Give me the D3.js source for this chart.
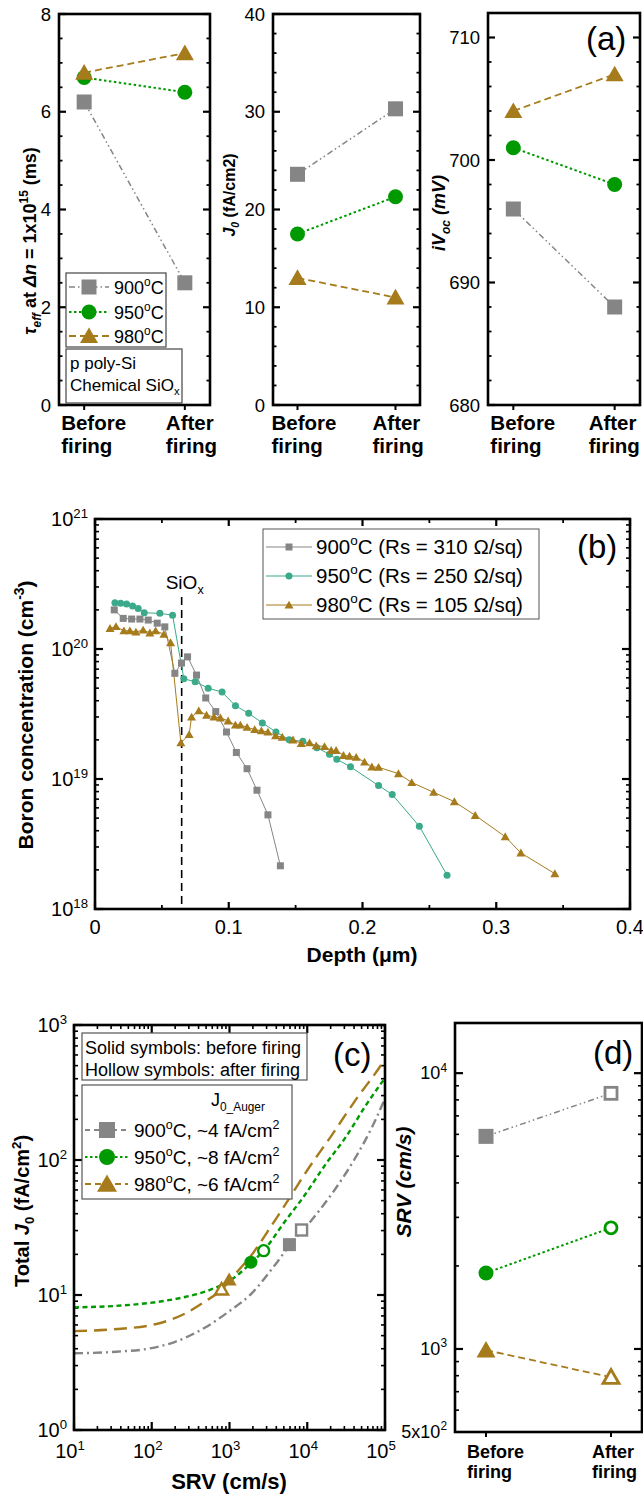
<!DOCTYPE html>
<html><head><meta charset="utf-8">
<script src="https://cdn.jsdelivr.net/npm/d3@7"></script>
<style>
body{margin:0;background:#fff}
svg{display:block}
text{font-family:"Liberation Sans",Arial,sans-serif;white-space:pre;fill:#000}
</style>
</head><body>
<svg id="chart" width="643" height="1494"></svg>
<script>
// ---------------- DATA ----------------
const firing = ["Before firing", "After firing"];
const firingLines = [["Before", "firing"], ["After", "firing"]];
const temps = ["900", "950", "980"];
// panel (a)
const tau900 = [6.2, 2.5], tau950 = [6.7, 6.4], tau980 = [6.8, 7.2];
const j0_900 = [23.6, 30.3], j0_950 = [17.5, 21.3], j0_980 = [13.0, 11.0];
const ivoc900 = [696, 688], ivoc950 = [701, 698], ivoc980 = [704, 707];
const tauTicks = [0, 2, 4, 6, 8];
const j0Ticks = [0, 10, 20, 30, 40];
const ivocTicks = [680, 690, 700, 710];
// panel (b)
const bRs = ["310", "250", "105"];
const b900Depth = [0.0144,0.0211,0.0274,0.0336,0.0398,0.0465,0.0522,0.0597,0.0647,0.0692,0.0759,0.0828,0.0903,0.0983,0.1057,0.1137,0.1211,0.1293,0.1386];
const b900Conc = [2.0e20,1.72e20,1.70e20,1.70e20,1.67e20,1.58e20,1.48e20,6.5e19,7.8e19,8.7e19,6.3e19,4.2e19,3.3e19,2.3e19,1.6e19,1.2e19,8.2e18,5.3e18,2.15e18];
const b950Depth = [0.0149,0.0192,0.0236,0.0281,0.0323,0.0368,0.0485,0.058,0.0664,0.0749,0.0846,0.095,0.105,0.1149,0.1251,0.1353,0.1452,0.1554,0.1659,0.1753,0.1808,0.191,0.212,0.2222,0.2425,0.2632];
const b950Conc = [2.27e20,2.25e20,2.22e20,2.14e20,2.05e20,1.9e20,1.88e20,1.82e20,5.9e19,5.6e19,5.0e19,4.66e19,3.66e19,3.2e19,2.7e19,2.3e19,2.0e19,1.95e19,1.74e19,1.55e19,1.42e19,1.24e19,8.9e18,7.6e18,4.33e18,1.82e18];
const b980Depth = [0.0112,0.0157,0.0216,0.0261,0.0306,0.036,0.041,0.0453,0.0515,0.0565,0.0642,0.0704,0.0722,0.0776,0.0834,0.089,0.0938,0.0995,0.105,0.1087,0.1137,0.1194,0.1244,0.1293,0.135,0.14,0.148,0.1542,0.1604,0.1654,0.1716,0.1766,0.1803,0.1858,0.1903,0.1953,0.2015,0.207,0.212,0.2269,0.2368,0.2532,0.2687,0.2843,0.3067,0.3184,0.3438];
const b980Conc = [1.44e20,1.49e20,1.38e20,1.38e20,1.35e20,1.4e20,1.33e20,1.38e20,1.3e20,1.12e20,1.9e19,2.2e19,3.0e19,3.35e19,3.1e19,3.0e19,2.95e19,2.8e19,2.6e19,2.6e19,2.5e19,2.4e19,2.35e19,2.3e19,2.15e19,2.1e19,2.0e19,1.88e19,1.9e19,1.8e19,1.78e19,1.66e19,1.66e19,1.52e19,1.5e19,1.47e19,1.35e19,1.24e19,1.23e19,1.1e19,9.4e18,7.9e18,6.7e18,5.25e18,3.6e18,2.7e18,1.87e18];
const siOxDepth = 0.0648;
const depthTicks = [0, 0.1, 0.2, 0.3, 0.4];
const depthTickLabels = ["0", "0.1", "0.2", "0.3", "0.4"];
const concTicks = [1e18, 1e19, 1e20, 1e21];
const concExp = ["18", "19", "20", "21"];
// panel (c) & (d)
const srv900 = [5900, 8450], srv950 = [1885, 2750], srv980 = [990, 790];
const j0Auger = ["4", "8", "6"];
const c900SRV = [10, 35, 90, 200, 500, 1000, 1900, 3700, 6000, 11000, 22000, 40000, 68000, 100000];
const c900J0  = [3.7, 3.8, 4.0, 4.5, 5.8, 7.6, 10.2, 16.2, 23.5, 35, 59, 100, 175, 285];
const c950SRV = [10, 40, 120, 275, 560, 1100, 1900, 2800, 5100, 9300, 17000, 31600, 57500, 100000];
const c950J0  = [8.1, 8.35, 8.9, 9.7, 10.9, 13.2, 17.3, 21.6, 34.7, 55, 92, 149, 257, 405];
const c980SRV = [10, 30, 115, 257, 520, 760, 1120, 2040, 3090, 5620, 10000, 20400, 40700, 91200, 100000];
const c980J0  = [5.4, 5.55, 6.1, 7.2, 9.2, 10.7, 13.8, 20.7, 29.5, 50, 84, 151, 272, 516, 560];
const srvTicksC = [10, 100, 1000, 10000, 100000];
const srvExpC = ["1", "2", "3", "4", "5"];
const j0TicksC = [1, 10, 100, 1000];
const j0ExpC = ["0", "1", "2", "3"];
const srvTicksD = [500, 1000, 10000];
const srvTickBaseD = ["5x10", "10", "10"];
const srvTickExpD = ["2", "3", "4"];

// ---------------- STYLE ----------------
const COL = {gray: "#858585", green: "#009a00", brown: "#a67b1c", teal: "#3aaa8b"};
const STY = [
  {color: COL.gray, shape: "square", dash: "6,3,1.5,3,1.5,3", w: 1.5},
  {color: COL.green, shape: "circle", dash: "2.5,2.5", w: 2},
  {color: COL.brown, shape: "triangle", dash: "7,4", w: 1.8}
];

const svg = d3.select("#chart");
svg.append("rect").attr("width", 643).attr("height", 1494).attr("fill", "#fff");
const defs = svg.append("defs");

function rich(g, x, y, segs, o) {
  const t = g.append("text").attr("x", x).attr("y", y)
    .attr("font-size", o.size).attr("text-anchor", o.anchor || "start");
  if (o.bold) t.attr("font-weight", "bold");
  if (o.italic) t.attr("font-style", "italic");
  if (o.transform) t.attr("transform", o.transform);
  let shift = 0;
  segs.forEach(s => {
    const seg = typeof s === "string" ? {t: s} : s;
    let target = 0, fs = o.size;
    if (seg.sup) { target = -o.size * 0.42; fs = o.size * 0.66; }
    if (seg.sub) { target = o.size * 0.25; fs = o.size * 0.66; }
    const ts = t.append("tspan").text(seg.t).attr("font-size", fs).attr("dy", target - shift);
    shift = target;
    if (seg.i) ts.attr("font-style", "italic");
  });
  return t;
}
function frame(g, x0, y0, x1, y1) {
  g.append("rect").attr("x", x0).attr("y", y0).attr("width", x1 - x0).attr("height", y1 - y0)
    .attr("fill", "none").attr("stroke", "#000").attr("stroke-width", 2.6);
}
function yTicks(g, scale, vals, xl, xr, len, w) {
  vals.forEach(v => {
    const y = scale(v);
    g.append("line").attr("x1", xl).attr("x2", xl + len).attr("y1", y).attr("y2", y).attr("stroke", "#000").attr("stroke-width", w);
    g.append("line").attr("x1", xr - len).attr("x2", xr).attr("y1", y).attr("y2", y).attr("stroke", "#000").attr("stroke-width", w);
  });
}
function xTicks(g, scale, vals, yb, yt, len, w) {
  vals.forEach(v => {
    const x = scale(v);
    g.append("line").attr("x1", x).attr("x2", x).attr("y1", yb).attr("y2", yb - len).attr("stroke", "#000").attr("stroke-width", w);
    g.append("line").attr("x1", x).attr("x2", x).attr("y1", yt).attr("y2", yt + len).attr("stroke", "#000").attr("stroke-width", w);
  });
}
function logMinors(lo, hi) {
  const out = [];
  for (let e = Math.floor(Math.log10(lo)); e <= Math.ceil(Math.log10(hi)); e++) {
    for (let k = 2; k <= 9; k++) { const v = k * Math.pow(10, e); if (v > lo * 1.0001 && v < hi * 0.9999) out.push(v); }
  }
  return out;
}
function marker(g, shape, x, y, s, color, hollow, sw) {
  let el;
  if (shape === "square") {
    el = g.append("rect").attr("x", x - s / 2).attr("y", y - s / 2).attr("width", s).attr("height", s);
  } else if (shape === "circle") {
    el = g.append("circle").attr("cx", x).attr("cy", y).attr("r", s / 2);
  } else {
    const h = s * 0.87;
    el = g.append("path").attr("d", `M${x},${y - h * 0.55}L${x + s / 2},${y + h * 0.45}L${x - s / 2},${y + h * 0.45}Z`);
  }
  if (hollow) el.attr("fill", "#fff").attr("stroke", color).attr("stroke-width", sw || 2.6);
  else el.attr("fill", color);
  return el;
}

// ---------------- PANEL (a) ----------------
const gA = svg.append("g");
const aDefs = [
  {x0: 59, x1: 210, y0: 14, y1: 405, dom: [0, 8], major: tauTicks, minor: 0.5, series: [tau900, tau950, tau980], lab: [-23, -19]},
  {x0: 273, x1: 420, y0: 14, y1: 405, dom: [0, 40], major: j0Ticks, minor: 2, series: [j0_900, j0_950, j0_980], lab: [-26, -23]},
  {x0: 488, x1: 640, y0: 13, y1: 405, dom: [680, 712], major: ivocTicks, minor: 2, series: [ivoc900, ivoc950, ivoc980], lab: [-23, -26]}
];
aDefs.forEach(d => {
  const xs = d3.scalePoint().domain(firing).range([d.x0, d.x1]).padding(0.25);
  const ys = d3.scaleLinear().domain(d.dom).range([d.y1, d.y0]);
  const minors = d3.range(d.dom[0], d.dom[1] + 1e-9, d.minor).filter(v => !d.major.includes(v));
  yTicks(gA, ys, minors, d.x0, d.x1, 3.5, 1.8);
  yTicks(gA, ys, d.major, d.x0, d.x1, 7, 2.2);
  d.major.forEach(v => {
    gA.append("text").attr("x", d.x0 - 8).attr("y", ys(v) + 6.5).attr("text-anchor", "end")
      .attr("font-size", 18.5).text(v);
  });
  firing.forEach((c, i) => {
    gA.append("line").attr("x1", xs(c)).attr("x2", xs(c)).attr("y1", d.y1).attr("y2", d.y1 + 5).attr("stroke", "#000").attr("stroke-width", 2);
    const t = gA.append("text").attr("font-size", 20.5).attr("font-weight", "bold");
    t.append("tspan").attr("x", xs(c) + d.lab[i]).attr("y", 430).text(firingLines[i][0]);
    t.append("tspan").attr("x", xs(c) + d.lab[i]).attr("y", 453).text(firingLines[i][1]);
  });
  d.series.forEach((vals, si) => {
    const st = STY[si];
    gA.append("path").datum(vals)
      .attr("d", d3.line().x((v, i) => xs(firing[i])).y(v => ys(v)))
      .attr("fill", "none").attr("stroke", st.color).attr("stroke-width", st.w).attr("stroke-dasharray", st.dash);
  });
  d.series.forEach((vals, si) => {
    const st = STY[si];
    vals.forEach((v, i) => marker(gA, st.shape, xs(firing[i]), ys(v), st.shape === "triangle" ? 18 : 15, st.color, false));
  });
  frame(gA, d.x0, d.y0, d.x1, d.y1);
});
rich(gA, 0, 0, [{t: "τ", i: true}, {t: "eff", sub: true, i: true}, " at ", {t: "Δn", i: true}, " = 1x10", {t: "15", sup: true}, " (ms)"],
  {size: 18, bold: true, anchor: "middle", transform: "translate(36,241) rotate(-90)"});
rich(gA, 0, 0, [{t: "J", i: true}, {t: "0", sub: true, i: true}, " (fA/cm2)"],
  {size: 16, bold: true, anchor: "middle", transform: "translate(235,195) rotate(-90)"});
rich(gA, 0, 0, [{t: "iV"}, {t: "oc", sub: true}, " (mV)"],
  {size: 18, bold: true, italic: true, anchor: "middle", transform: "translate(445,213) rotate(-90)"});
gA.append("text").attr("x", 586).attr("y", 50).attr("font-size", 33).text("(a)");
gA.append("rect").attr("x", 66).attr("y", 273).attr("width", 100).attr("height", 74).attr("fill", "#fff").attr("stroke", "#444").attr("stroke-width", 1.2);
[287, 312, 336].forEach((y, si) => {
  const st = STY[si];
  gA.append("line").attr("x1", 69).attr("x2", 109).attr("y1", y).attr("y2", y).attr("stroke", st.color).attr("stroke-width", st.w).attr("stroke-dasharray", st.dash);
  marker(gA, st.shape, 89, y, st.shape === "triangle" ? 18 : 15, st.color, false);
  rich(gA, 114, y + 6.5, [temps[si], {t: "o", sup: true}, "C"], {size: 18});
});
gA.append("rect").attr("x", 66).attr("y", 349).attr("width", 116).attr("height", 54).attr("fill", "#fff").attr("stroke", "#444").attr("stroke-width", 1.2);
rich(gA, 70, 369, ["p poly-Si"], {size: 17});
rich(gA, 70, 391, ["Chemical SiO", {t: "x", sub: true}], {size: 17});

// ---------------- PANEL (b) ----------------
const gB = svg.append("g");
const bx0 = 95, bx1 = 630, by0 = 519, by1 = 909;
const xB = d3.scaleLinear().domain([0, 0.4]).range([bx0, bx1]);
const yB = d3.scaleLog().domain([1e18, 1e21]).range([by1, by0]);
xTicks(gB, xB, [0.05, 0.15, 0.25, 0.35], by1, by0, 4, 1.8);
xTicks(gB, xB, depthTicks, by1, by0, 7, 2.2);
yTicks(gB, yB, logMinors(1e18, 1e21), bx0, bx1, 4, 1.6);
yTicks(gB, yB, concTicks, bx0, bx1, 8, 2.2);
depthTicks.forEach((v, i) => gB.append("text").attr("x", xB(v)).attr("y", 934).attr("text-anchor", "middle").attr("font-size", 20).text(depthTickLabels[i]));
concTicks.forEach((v, i) => rich(gB, 88, yB(v) + 7, ["10", {t: concExp[i], sup: true}], {size: 20, anchor: "end"}));
gB.append("line").attr("x1", xB(siOxDepth)).attr("x2", xB(siOxDepth)).attr("y1", 597).attr("y2", by1)
  .attr("stroke", "#000").attr("stroke-width", 1.6).attr("stroke-dasharray", "8,5");
rich(gB, xB(siOxDepth) + 3, 589, ["SiO", {t: "x", sub: true}], {size: 19, anchor: "middle"});
const bSeries = [
  {d: b900Depth, c: b900Conc, color: COL.gray, shape: "square", s: 7},
  {d: b950Depth, c: b950Conc, color: COL.teal, shape: "circle", s: 7},
  {d: b980Depth, c: b980Conc, color: COL.brown, shape: "triangle", s: 9}
];
bSeries.forEach(s => {
  gB.append("path").datum(d3.zip(s.d, s.c))
    .attr("d", d3.line().x(p => xB(p[0])).y(p => yB(p[1])))
    .attr("fill", "none").attr("stroke", s.color).attr("stroke-width", 1);
});
bSeries.forEach(s => {
  s.d.forEach((v, i) => marker(gB, s.shape, xB(v), yB(s.c[i]), s.s, s.color, false));
});
frame(gB, bx0, by0, bx1, by1);
gB.append("rect").attr("x", 263).attr("y", 529).attr("width", 276).attr("height", 90).attr("fill", "#fff").attr("stroke", "#555").attr("stroke-width", 1);
[547, 576, 605].forEach((y, si) => {
  const s = bSeries[si];
  gB.append("line").attr("x1", 266).attr("x2", 312).attr("y1", y).attr("y2", y).attr("stroke", s.color).attr("stroke-width", 1);
  marker(gB, s.shape, 289, y, s.s, s.color, false);
  rich(gB, 316, y + 7, [temps[si], {t: "o", sup: true}, "C (Rs = " + bRs[si] + " Ω/sq)"], {size: 20.5});
});
gB.append("text").attr("x", 577).attr("y", 558).attr("font-size", 33).text("(b)");
rich(gB, 0, 0, ["Boron concentration (cm", {t: "-3", sup: true}, ")"],
  {size: 21, bold: true, anchor: "middle", transform: "translate(33,715) rotate(-90)"});
rich(gB, 362, 962, ["Depth (μm)"], {size: 21, bold: true, anchor: "middle"});

// ---------------- PANEL (c) ----------------
const gC = svg.append("g");
const cx0 = 74, cx1 = 385, cy0 = 1025, cy1 = 1430;
const xC = d3.scaleLog().domain([10, 1e5]).range([cx0, cx1]);
const yC = d3.scaleLog().domain([1, 1000]).range([cy1, cy0]);
defs.append("clipPath").attr("id", "clipC").append("rect").attr("x", cx0).attr("y", cy0).attr("width", cx1 - cx0).attr("height", cy1 - cy0);
xTicks(gC, xC, logMinors(10, 1e5), cy1, cy0, 4, 1.6);
xTicks(gC, xC, srvTicksC, cy1, cy0, 8, 2.2);
yTicks(gC, yC, logMinors(1, 1000), cx0, cx1, 4, 1.6);
yTicks(gC, yC, j0TicksC, cx0, cx1, 8, 2.2);
srvTicksC.forEach((v, i) => rich(gC, xC(v) - 4, 1458, ["10", {t: srvExpC[i], sup: true}], {size: 20, anchor: "middle"}));
j0TicksC.forEach((v, i) => rich(gC, 67, yC(v) + 7, ["10", {t: j0ExpC[i], sup: true}], {size: 20, anchor: "end"}));
const cCurves = [[c900SRV, c900J0], [c950SRV, c950J0], [c980SRV, c980J0]];
const cDash = ["9,4,2,4", "5,3.5", "13,7"];
cCurves.forEach((cv, si) => {
  gC.append("path").datum(d3.zip(cv[0], cv[1])).attr("clip-path", "url(#clipC)")
    .attr("d", d3.line().curve(d3.curveMonotoneX).x(p => xC(p[0])).y(p => yC(p[1])))
    .attr("fill", "none").attr("stroke", STY[si].color).attr("stroke-width", 2.4).attr("stroke-dasharray", cDash[si]);
});
const srvAll = [srv900, srv950, srv980];
const j0All = [j0_900, j0_950, j0_980];
[0, 1, 2].forEach(si => {
  const st = STY[si];
  const sz = st.shape === "triangle" ? 15 : 13;
  marker(gC, st.shape, xC(srvAll[si][0]), yC(j0All[si][0]), sz, st.color, false);
  marker(gC, st.shape, xC(srvAll[si][1]), yC(j0All[si][1]), sz - 2, st.color, true, 2.4);
});
frame(gC, cx0, cy0, cx1, cy1);
gC.append("rect").attr("x", 82).attr("y", 1033).attr("width", 225).attr("height", 47).attr("fill", "#fff").attr("stroke", "#555").attr("stroke-width", 1.2);
rich(gC, 85, 1054, ["Solid symbols: before firing"], {size: 18});
rich(gC, 85, 1076, ["Hollow symbols: after firing"], {size: 18});
gC.append("rect").attr("x", 82).attr("y", 1085).attr("width", 210).attr("height", 114).attr("fill", "#fff").attr("stroke", "#555").attr("stroke-width", 1.2);
rich(gC, 211, 1106, ["J", {t: "0_Auger", sub: true}], {size: 18});
[1130, 1157, 1184].forEach((y, si) => {
  const st = STY[si];
  gC.append("line").attr("x1", 85).attr("x2", 128).attr("y1", y).attr("y2", y).attr("stroke", st.color).attr("stroke-width", 2).attr("stroke-dasharray", si === 0 ? "5,4" : (si === 1 ? "2.5,2.5" : "6,4"));
  marker(gC, st.shape, 107, y, st.shape === "triangle" ? 20 : 16, st.color, false);
  rich(gC, 134, y + 7, [temps[si], {t: "o", sup: true}, "C, ~" + j0Auger[si] + " fA/cm", {t: "2", sup: true}], {size: 19});
});
gC.append("text").attr("x", 333).attr("y", 1066).attr("font-size", 33).text("(c)");
rich(gC, 0, 0, ["Total ", {t: "J", i: true}, {t: "0", sub: true}, " (fA/cm", {t: "2", sup: true}, ")"],
  {size: 20, bold: true, anchor: "middle", transform: "translate(29,1211) rotate(-90)"});
rich(gC, 229, 1489, ["SRV (cm/s)"], {size: 22, bold: true, anchor: "middle"});

// ---------------- PANEL (d) ----------------
const gD = svg.append("g");
const dx0 = 455, dx1 = 642, dy0 = 1023, dy1 = 1432;
const xD = d3.scalePoint().domain(firing).range([dx0, dx1]).padding(0.248);
const yD = d3.scaleLog().domain([500, 15200]).range([dy1, dy0]);
yTicks(gD, yD, logMinors(500, 15200), dx0, dx1, 4, 1.6);
yTicks(gD, yD, [1000, 10000], dx0, dx1, 8, 2.2);
srvTicksD.forEach((v, i) => rich(gD, 447, yD(v) + 6, [srvTickBaseD[i], {t: srvTickExpD[i], sup: true}], {size: 18, anchor: "end"}));
firing.forEach((c, i) => {
  gD.append("line").attr("x1", xD(c)).attr("x2", xD(c)).attr("y1", dy1).attr("y2", dy1 + 5).attr("stroke", "#000").attr("stroke-width", 2);
  const t = gD.append("text").attr("font-size", 18).attr("font-weight", "bold");
  t.append("tspan").attr("x", xD(c) - 19).attr("y", 1458).text(firingLines[i][0]);
  t.append("tspan").attr("x", xD(c) - 19).attr("y", 1478).text(firingLines[i][1]);
});
[0, 1, 2].forEach(si => {
  const st = STY[si];
  gD.append("path").datum(srvAll[si])
    .attr("d", d3.line().x((v, i) => xD(firing[i])).y(v => yD(v)))
    .attr("fill", "none").attr("stroke", st.color).attr("stroke-width", st.w).attr("stroke-dasharray", st.dash);
});
[0, 1, 2].forEach(si => {
  const st = STY[si];
  const sz = st.shape === "triangle" ? 19 : 15;
  marker(gD, st.shape, xD(firing[0]), yD(srvAll[si][0]), sz, st.color, false);
  marker(gD, st.shape, xD(firing[1]), yD(srvAll[si][1]), sz - 3, st.color, true, 2.8);
});
frame(gD, dx0, dy0, dx1, dy1);
gD.append("text").attr("x", 593).attr("y", 1064).attr("font-size", 33).text("(d)");
rich(gD, 0, 0, ["SRV (cm/s)"], {size: 21, bold: true, italic: true, anchor: "middle", transform: "translate(411,1182) rotate(-90)"});
</script>
</body></html>
